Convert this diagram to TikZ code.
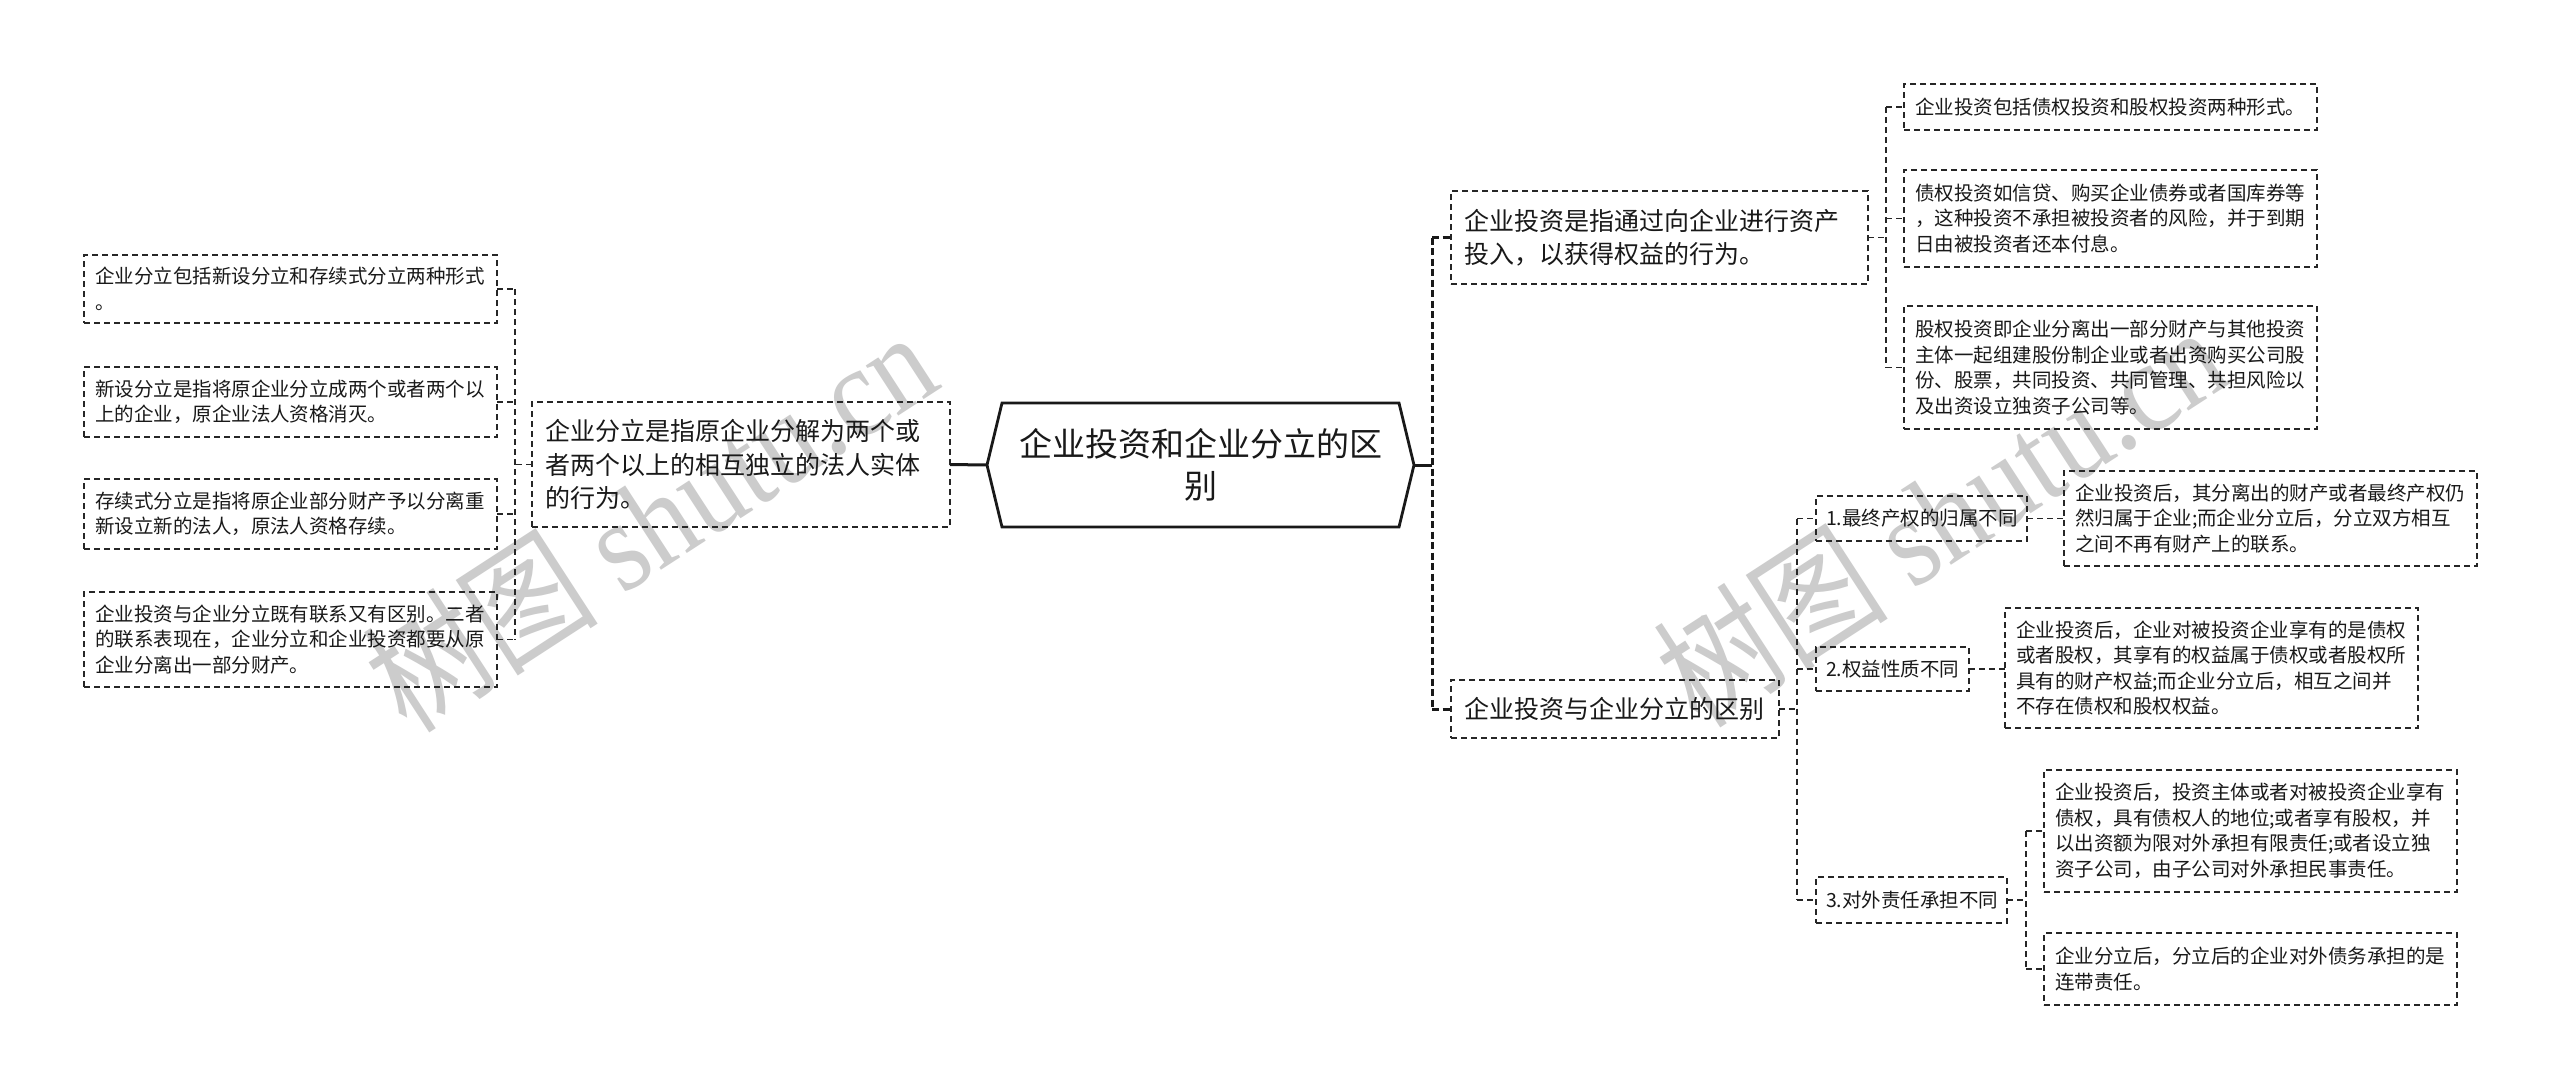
\documentclass[tikz,border=0pt]{standalone}
\usepackage{fontspec}
\setmainfont{Noto Sans CJK SC}
\newfontfamily\wmlatin{Liberation Serif}
\begin{document}
\begin{tikzpicture}[x=1pt,y=-1pt,
  box/.style={draw=black!85, line width=1.5pt, dash pattern=on 6pt off 4pt, anchor=north west,
    align=left, inner xsep=11pt, inner ysep=0pt, outer sep=0pt, text=black!90},
  sm/.style={font=\fontsize{19.5}{25.5}\selectfont},
  md/.style={font=\fontsize{25}{33.5}\selectfont},
  conn/.style={draw=black!85, line width=1.7pt, dash pattern=on 6pt off 4pt},
  trunk/.style={draw=black!90, line width=3pt, dash pattern=on 7pt off 3.5pt},
  solidc/.style={draw=black!90, line width=3pt},
  wm/.style={text=black!20, font=\fontsize{130}{130}\selectfont, inner sep=0pt}]
\fill[white] (0,0) rectangle (2560,1088);
\useasboundingbox (0,0) rectangle (2560,1088);

% watermarks
\node[wm, rotate=33, xscale=0.88] (wm1) at (650,519) {树图 {\wmlatin shutu.cn}};
\node[wm, rotate=33, xscale=0.88] (wm2) at (1940,514) {树图 {\wmlatin shutu.cn}};

% left column
\node[box, sm, minimum width=413pt, minimum height=68pt, text width=391pt] (l1) at (84,255)
  {企业分立包括新设分立和存续式分立两种形式\\。};
\node[box, sm, minimum width=413pt, minimum height=70pt, text width=391pt] (l2) at (84,367)
  {新设分立是指将原企业分立成两个或者两个以\\上的企业，原企业法人资格消灭。};
\node[box, sm, minimum width=413pt, minimum height=70pt, text width=391pt] (l3) at (84,479)
  {存续式分立是指将原企业部分财产予以分离重\\新设立新的法人，原法人资格存续。};
\node[box, sm, minimum width=413pt, minimum height=95pt, text width=391pt] (l4) at (84,592)
  {企业投资与企业分立既有联系又有区别。二者\\的联系表现在，企业分立和企业投资都要从原\\企业分离出一部分财产。};
\node[box, md, inner xsep=13pt, minimum width=418pt, minimum height=125pt, text width=392pt] (lm) at (532,402)
  {企业分立是指原企业分解为两个或\\者两个以上的相互独立的法人实体\\的行为。};

% root
\node[inner sep=0pt, outer sep=0pt, minimum width=427pt, minimum height=124pt, align=center,
  text width=400pt, font=\fontsize{33}{42}\selectfont, text=black!90] (root) at (1200.5,465)
  {企业投资和企业分立的区\\别};
\draw[line width=2.8pt, line join=miter, draw=black!90]
  ([xshift=15pt]root.north west) -- ([xshift=-15pt]root.north east) -- (root.east)
  -- ([xshift=-15pt]root.south east) -- ([xshift=15pt]root.south west) -- (root.west) -- cycle;

% right level 1
\node[box, md, inner xsep=13pt, minimum width=417pt, minimum height=93pt, text width=391pt] (r1) at (1451,191)
  {企业投资是指通过向企业进行资产\\投入，以获得权益的行为。};
\node[box, md, inner xsep=13.5pt, minimum width=328pt, minimum height=58pt, text width=301pt] (r2) at (1451,680)
  {企业投资与企业分立的区别};

% r1 children
\node[box, sm, minimum width=413pt, minimum height=46pt, text width=391pt] (r1a) at (1904,84)
  {企业投资包括债权投资和股权投资两种形式。};
\node[box, sm, minimum width=413pt, minimum height=97pt, text width=391pt] (r1b) at (1904,170)
  {债权投资如信贷、购买企业债券或者国库券等\\，这种投资不承担被投资者的风险，并于到期\\日由被投资者还本付息。};
\node[box, sm, minimum width=413pt, minimum height=123pt, text width=391pt] (r1c) at (1904,306)
  {股权投资即企业分离出一部分财产与其他投资\\主体一起组建股份制企业或者出资购买公司股\\份、股票，共同投资、共同管理、共担风险以\\及出资设立独资子公司等。};

% r2 children
\node[box, sm, inner xsep=10pt, minimum width=211pt, minimum height=45pt, text width=191pt] (s1) at (1816,496)
  {1.最终产权的归属不同};
\node[box, sm, inner xsep=10pt, minimum width=153pt, minimum height=44pt, text width=133pt] (s2) at (1816,647)
  {2.权益性质不同};
\node[box, sm, inner xsep=10pt, minimum width=191pt, minimum height=46pt, text width=171pt] (s3) at (1816,877)
  {3.对外责任承担不同};

\node[box, sm, minimum width=413pt, minimum height=95pt, text width=391pt] (s1c) at (2064,471)
  {企业投资后，其分离出的财产或者最终产权仍\\然归属于企业;而企业分立后，分立双方相互\\之间不再有财产上的联系。};
\node[box, sm, minimum width=413pt, minimum height=120pt, text width=391pt] (s2c) at (2005,608)
  {企业投资后，企业对被投资企业享有的是债权\\或者股权，其享有的权益属于债权或者股权所\\具有的财产权益;而企业分立后，相互之间并\\不存在债权和股权权益。};
\node[box, sm, minimum width=413pt, minimum height=122pt, text width=391pt] (s3a) at (2044,770)
  {企业投资后，投资主体或者对被投资企业享有\\债权，具有债权人的地位;或者享有股权，并\\以出资额为限对外承担有限责任;或者设立独\\资子公司，由子公司对外承担民事责任。};
\node[box, sm, minimum width=413pt, minimum height=72pt, text width=391pt] (s3b) at (2044,933)
  {企业分立后，分立后的企业对外债务承担的是\\连带责任。};

% connector x positions
\coordinate (lv) at (515,0);
\coordinate (rv) at (1432,0);
\coordinate (r1v) at (1886,0);
\coordinate (r2v) at (1797,0);
\coordinate (s3v) at (2026,0);

% left connectors
\draw[solidc] (lm.east) -- (root.west);
\draw[conn] (lm.west) -- (lv |- lm.west);
\draw[conn] (lv |- l1.east) -- (lv |- l4.east);
\foreach \n in {l1,l2,l3,l4} { \draw[conn] (\n.east) -- (lv |- \n.east); }

% right trunk
\draw[solidc] (root.east) -- (rv |- root.east);
\draw[trunk] (rv |- r1.west) -- (rv |- r2.west);
\draw[trunk] (rv |- r1.west) -- (r1.west);
\draw[trunk] (rv |- r2.west) -- (r2.west);

% r1 children connectors
\draw[conn] (r1.east) -- (r1v |- r1.east);
\draw[conn] (r1v |- r1a.west) -- (r1v |- r1c.west);
\foreach \n in {r1a,r1b,r1c} { \draw[conn] (r1v |- \n.west) -- (\n.west); }

% r2 children connectors
\draw[conn] (r2.east) -- (r2v |- r2.east);
\draw[conn] (r2v |- s1.west) -- (r2v |- s3.west);
\foreach \n in {s1,s2,s3} { \draw[conn] (r2v |- \n.west) -- (\n.west); }

\draw[conn] (s1.east) -- (s1c.west |- s1.east);
\draw[conn] (s2.east) -- (s2c.west |- s2.east);

\draw[conn] (s3.east) -- (s3v |- s3.east);
\draw[conn] (s3v |- s3a.west) -- (s3v |- s3b.west);
\foreach \n in {s3a,s3b} { \draw[conn] (s3v |- \n.west) -- (\n.west); }
\end{tikzpicture}
\end{document}
